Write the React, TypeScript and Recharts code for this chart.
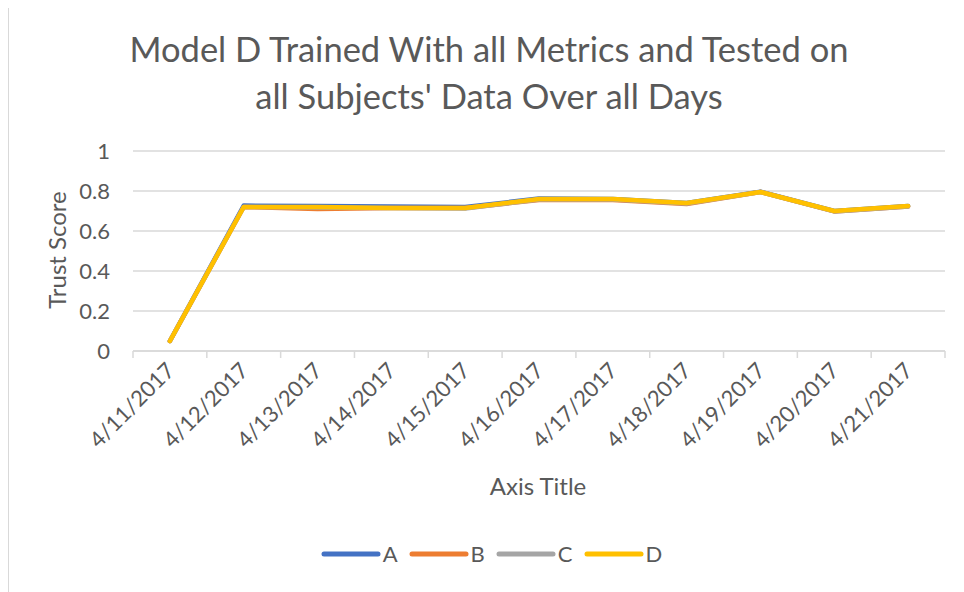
import React from "react";
import { LineChart, Line, XAxis, YAxis, CartesianGrid, Legend } from "recharts";

const categories = [
  "4/11/2017",
  "4/12/2017",
  "4/13/2017",
  "4/14/2017",
  "4/15/2017",
  "4/16/2017",
  "4/17/2017",
  "4/18/2017",
  "4/19/2017",
  "4/20/2017",
  "4/21/2017",
];

const seriesA = [0.05, 0.727, 0.725, 0.722, 0.72, 0.762, 0.76, 0.74, 0.797, 0.7, 0.725];
const seriesB = [0.05, 0.72, 0.71, 0.715, 0.715, 0.755, 0.755, 0.735, 0.795, 0.698, 0.722];
const seriesC = [0.05, 0.72, 0.718, 0.715, 0.713, 0.758, 0.758, 0.737, 0.795, 0.698, 0.723];
const seriesD = [0.05, 0.72, 0.72, 0.715, 0.715, 0.76, 0.76, 0.74, 0.795, 0.7, 0.725];

const yTicks = [0, 0.2, 0.4, 0.6, 0.8, 1];

const SERIES = [
  { key: "A", color: "#4472C4" },
  { key: "B", color: "#ED7D31" },
  { key: "C", color: "#A5A5A5" },
  { key: "D", color: "#FFC000" },
];

const WIDTH = 956;
const HEIGHT = 584;
const MARGIN = { top: 143, right: 19, left: 0, bottom: 114 };
const Y_AXIS_WIDTH = 125;
const HALF_BAND = (WIDTH - Y_AXIS_WIDTH - MARGIN.right) / categories.length / 2;

const TEXT = "#595959";
const GRID = "#d9d9d9";
const FONT = "Lato, 'Open Sans', sans-serif";

// x is numeric so tick marks land between categories, like Excel
const data = categories.map((label, i) => ({
  x: i + 0.5,
  label,
  A: seriesA[i],
  B: seriesB[i],
  C: seriesC[i],
  D: seriesD[i],
}));

const boundaryTicks = categories.map((_, i) => i).concat(categories.length);

function XTick(props: any) {
  const { x, y, payload } = props;
  const label = categories[payload.value];
  if (!label) return null;
  const tx = x + HALF_BAND + 6;
  const ty = y + 12;
  return (
    <text
      x={tx}
      y={ty}
      textAnchor="end"
      fill={TEXT}
      fontSize={22}
      fontFamily={FONT}
      transform={`rotate(-45 ${tx} ${ty})`}
    >
      {label}
    </text>
  );
}

function LegendContent() {
  return (
    <div
      style={{
        display: "flex",
        justifyContent: "center",
        paddingLeft: 22,
        fontFamily: FONT,
        fontSize: 22,
        color: TEXT,
      }}
    >
      {SERIES.map((s) => (
        <div key={s.key} style={{ display: "flex", alignItems: "center", marginRight: 11 }}>
          <svg width={60} height={10}>
            <line x1={3} y1={5} x2={57} y2={5} stroke={s.color} strokeWidth={5} strokeLinecap="round" />
          </svg>
          <span style={{ marginLeft: 2 }}>{s.key}</span>
        </div>
      ))}
    </div>
  );
}

export default function App() {
  return (
    <div style={{ position: "relative", width: WIDTH, height: HEIGHT, background: "#fff" }}>
      <div
        style={{
          position: "absolute",
          left: -1,
          top: -2,
          width: 957,
          height: 586,
          borderLeft: `2px solid ${GRID}`,
          borderTop: `2px solid ${GRID}`,
          boxSizing: "border-box",
        }}
      />
      <div
        style={{
          position: "absolute",
          left: 0,
          top: 17,
          width: 962,
          textAlign: "center",
          fontFamily: FONT,
          fontSize: 34.5,
          lineHeight: "47px",
          color: TEXT,
        }}
      >
        Model D Trained With all Metrics and Tested on
        <br />
        all Subjects' Data Over all Days
      </div>
      <div
        style={{
          position: "absolute",
          left: -51,
          top: 228,
          width: 200,
          height: 28,
          lineHeight: "28px",
          textAlign: "center",
          transform: "rotate(-90deg)",
          fontFamily: FONT,
          fontSize: 24,
          color: TEXT,
        }}
      >
        Trust Score
      </div>
      <div
        style={{
          position: "absolute",
          left: 430,
          top: 463,
          width: 200,
          textAlign: "center",
          fontFamily: FONT,
          fontSize: 24,
          color: TEXT,
        }}
      >
        Axis Title
      </div>
      <LineChart width={WIDTH} height={HEIGHT} data={data} margin={MARGIN}>
        <CartesianGrid vertical={false} stroke={GRID} strokeWidth={1.5} />
        <XAxis
          dataKey="x"
          type="number"
          domain={[0, categories.length]}
          ticks={boundaryTicks}
          interval={0}
          height={100}
          tickSize={7}
          tickMargin={2}
          tickLine={{ stroke: GRID, strokeWidth: 1.5 }}
          axisLine={{ stroke: GRID, strokeWidth: 1.5 }}
          tick={<XTick />}
        />
        <YAxis
          width={Y_AXIS_WIDTH}
          domain={[0, 1]}
          ticks={yTicks}
          axisLine={false}
          tickLine={false}
          tickSize={0}
          tickMargin={23}
          tick={{ fill: TEXT, fontSize: 22, fontFamily: FONT }}
        />
        <Legend
          verticalAlign="bottom"
          content={<LegendContent />}
          wrapperStyle={{ left: 0, width: WIDTH, top: 532 }}
        />
        {SERIES.map((s) => (
          <Line
            key={s.key}
            type="linear"
            dataKey={s.key}
            name={s.key}
            stroke={s.color}
            strokeWidth={4.5}
            strokeLinecap="round"
            strokeLinejoin="round"
            dot={false}
            activeDot={false}
            isAnimationActive={false}
          />
        ))}
      </LineChart>
    </div>
  );
}
